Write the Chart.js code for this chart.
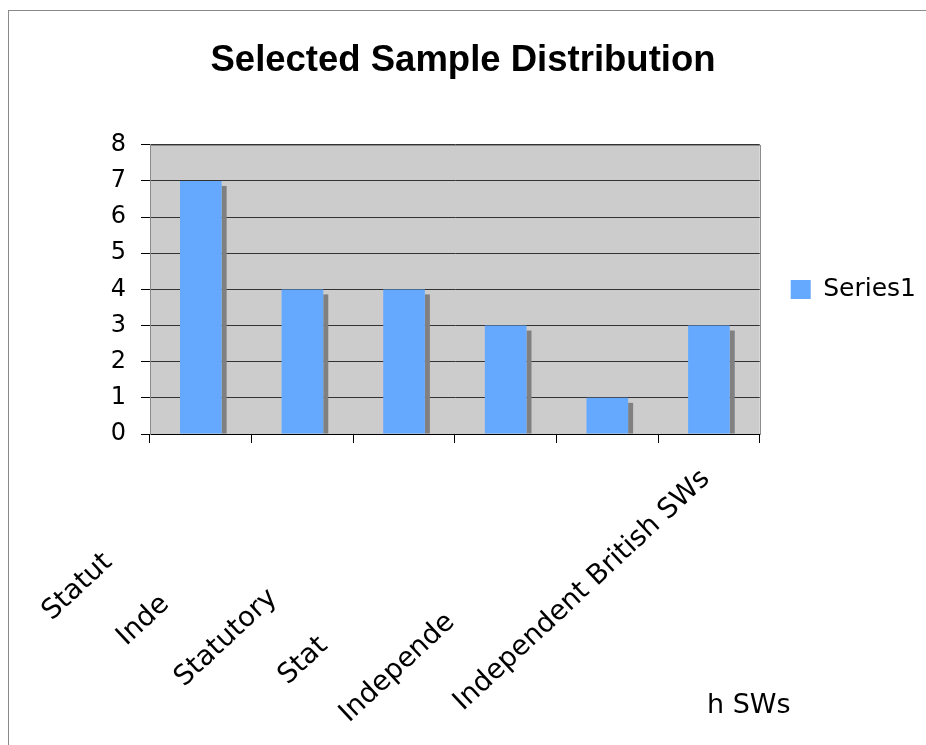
<!DOCTYPE html>
<html><head><meta charset="utf-8">
<script src="https://cdn.jsdelivr.net/npm/chart.js@4.4.0/dist/chart.umd.min.js"></script>
<style>
html,body{margin:0;padding:0;background:#fff;overflow:hidden;}
#wrap{position:relative;width:926px;height:745px;overflow:hidden;}
#frame{position:absolute;left:8px;top:10px;width:2000px;height:2000px;border-left:1px solid #8a8a8a;border-top:1px solid #8a8a8a;pointer-events:none;}
canvas{position:absolute;left:0;top:0;}
</style></head><body>
<div id="wrap"><canvas id="c" width="926" height="745"></canvas><div id="frame"></div></div>
<script>
// ---- data ----
const chartTitle = 'Selected Sample Distribution';
const seriesName = 'Series1';
const categories = ['Statut', 'Inde', 'Statutory', 'Stat', 'Independe', 'Independent British SWs'];
const series1 = [7, 4, 4, 3, 1, 3];
const yMin = 0, yMax = 8, yStep = 1;
const footText = 'h SWs';
// ---- label layout (trailing spaces shift each clipped label along its slant) ----
const labelPad = [14, 21, 20, 28, 24, 0];

const plotBg = {
  id: 'plotBg',
  beforeDraw(chart) {
    const {ctx, chartArea: a} = chart;
    ctx.save();
    ctx.fillStyle = '#cccccc';
    ctx.fillRect(a.left, a.top, a.right - a.left, a.bottom - a.top);
    ctx.strokeStyle = '#8c8c8c';
    ctx.lineWidth = 1;
    ctx.strokeRect(Math.round(a.left) + 0.5, Math.round(a.top) + 0.5, Math.round(a.right - a.left), Math.round(a.bottom - a.top));
    ctx.restore();
  }
};
const barShadow = {
  id: 'barShadow',
  beforeDatasetsDraw(chart) {
    const ctx = chart.ctx;
    const meta = chart.getDatasetMeta(0);
    ctx.save();
    ctx.fillStyle = '#808080';
    meta.data.forEach(el => {
      const p = el.getProps(['x', 'y', 'base', 'width'], true);
      const r = p.x + p.width / 2;
      const t = p.y + 5;
      ctx.fillRect(r, t, 5, p.base - t);
    });
    ctx.restore();
  }
};
const footnote = {
  id: 'footnote',
  afterDraw(chart) {
    const ctx = chart.ctx;
    ctx.save();
    ctx.font = '27px "DejaVu Sans"';
    ctx.fillStyle = '#000';
    ctx.textBaseline = 'alphabetic';
    ctx.textAlign = 'left';
    ctx.fillText(footText, 707, 713);
    ctx.restore();
  }
};

new Chart(document.getElementById('c'), {
  type: 'bar',
  data: {
    labels: categories,
    datasets: [{
      label: seriesName,
      data: series1,
      yAxisID: 'y',
      backgroundColor: '#65a9ff',
      borderWidth: 0,
      barPercentage: 0.41,
      categoryPercentage: 1
    }]
  },
  options: {
    responsive: false,
    animation: false,
    devicePixelRatio: 1,
    layout: {padding: {left: 0, right: 0, top: 0, bottom: 0}},
    plugins: {
      title: {
        display: true, text: chartTitle, color: '#000',
        font: {family: '"Liberation Sans", Arial, sans-serif', size: 36.5, weight: 'bold'},
        padding: {top: 39, bottom: 62}
      },
      legend: {
        position: 'right', fullSize: false, align: 'center',
        labels: {boxWidth: 20, boxHeight: 19, padding: 10, color: '#000', font: {family: '"DejaVu Sans"', size: 25}}
      },
      tooltip: {enabled: false}
    },
    scales: {
      x: {
        offset: true,
        grid: {display: true, drawOnChartArea: false, drawTicks: true, tickLength: 9, color: '#000', offset: true},
        border: {display: true, color: '#000'},
        ticks: {
          autoSkip: false, maxRotation: 43, minRotation: 43, padding: 20, labelOffset: -3,
          color: '#000', font: {family: '"DejaVu Sans"', size: 27.5},
          callback: (v, i) => categories[i] + ' '.repeat(labelPad[i])
        },
        afterFit: s => { s.height = 311; s.paddingLeft = 0; s.paddingRight = 0; }
      },
      y: {
        min: yMin, max: yMax,
        ticks: {stepSize: yStep, padding: 15, color: '#000', font: {family: '"DejaVu Sans"', size: 24}},
        grid: {color: '#333', tickColor: '#000', tickLength: 9},
        border: {display: true, color: '#8c8c8c'},
        afterFit: s => { s.width = 150; }
      },
      spacer: {
        type: 'linear', position: 'right', display: true,
        grid: {display: false}, ticks: {display: false}, border: {display: false},
        afterFit: s => { s.width = 21; }
      }
    }
  },
  plugins: [plotBg, barShadow, footnote]
});
</script>
</body></html>
